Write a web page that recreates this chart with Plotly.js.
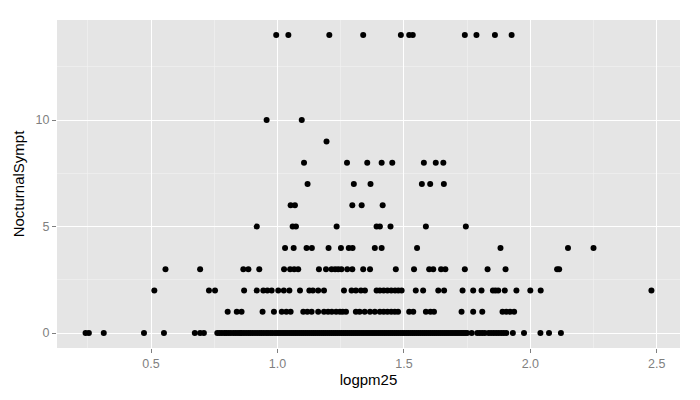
<!DOCTYPE html>
<html>
<head>
<meta charset="utf-8">
<script src="https://cdn.plot.ly/plotly-3.0.1.min.js"></script>
<style>html,body{margin:0;padding:0;background:#fff;}#chart{width:700px;height:400px;}</style>
</head>
<body>
<div id="chart"></div>
<script>
// logpm25 values of the points, grouped by their NocturnalSympt value
const sympt0 = [0.241, 0.254, 0.313, 0.472, 0.551, 0.673, 0.694, 0.709,
  0.762, 0.771, 0.780, 0.790, 0.798, 0.807, 0.816, 0.826, 0.835, 0.844, 0.852, 0.858,
  0.867, 0.876, 0.885, 0.893, 0.902, 0.911, 0.920, 0.929, 0.937, 0.946, 0.955, 0.963,
  0.972, 0.980, 0.990, 0.998, 1.006, 1.014, 1.022, 1.030, 1.038, 1.046, 1.054, 1.062,
  1.070, 1.078, 1.086, 1.094, 1.102, 1.110, 1.118, 1.126, 1.134, 1.142, 1.150, 1.158,
  1.166, 1.174, 1.182, 1.190, 1.198, 1.206, 1.214, 1.222, 1.230, 1.238, 1.246, 1.254,
  1.262, 1.270, 1.278, 1.286, 1.294, 1.302, 1.310, 1.318, 1.326, 1.334, 1.342, 1.350,
  1.358, 1.366, 1.374, 1.382, 1.390, 1.398, 1.406, 1.414, 1.422, 1.430, 1.438, 1.446,
  1.454, 1.462, 1.470, 1.478, 1.486, 1.494, 1.502, 1.510, 1.518, 1.526, 1.534, 1.542,
  1.550, 1.558, 1.566, 1.574, 1.582, 1.590, 1.598, 1.606, 1.614, 1.622, 1.630, 1.638,
  1.646, 1.654, 1.662, 1.670, 1.678, 1.686, 1.694, 1.702, 1.710, 1.718, 1.726, 1.734,
  1.742, 1.750, 1.768, 1.790, 1.800, 1.810, 1.820, 1.835, 1.845, 1.855, 1.865, 1.875,
  1.885, 1.895, 1.905, 1.931, 1.975, 2.040, 2.074, 2.121];
const sympt1 = [0.803, 0.839, 0.858, 0.941, 0.986, 1.017, 1.035, 1.052, 1.102, 1.118,
  1.135, 1.161, 1.184, 1.200, 1.215, 1.232, 1.247, 1.258, 1.271, 1.310, 1.325, 1.345,
  1.366, 1.385, 1.405, 1.420, 1.435, 1.450, 1.464, 1.477, 1.521, 1.537, 1.587, 1.605,
  1.619, 1.728, 1.774, 1.810, 1.890, 1.905, 1.920, 1.936];
const sympt2 = [0.513, 0.729, 0.753, 0.868, 0.918, 0.944, 0.960, 0.977, 1.003, 1.025,
  1.047, 1.089, 1.126, 1.140, 1.161, 1.184, 1.263, 1.293, 1.310, 1.330, 1.346, 1.392,
  1.405, 1.420, 1.435, 1.450, 1.465, 1.478, 1.491, 1.547, 1.576, 1.636, 1.659, 1.732,
  1.774, 1.807, 1.852, 1.862, 1.873, 1.899, 1.945, 2.000, 2.041, 2.479];
const sympt3 = [0.557, 0.694, 0.865, 0.885, 0.928, 1.026, 1.050, 1.066, 1.082, 1.164,
  1.192, 1.214, 1.228, 1.240, 1.253, 1.276, 1.296, 1.339, 1.366, 1.468, 1.540, 1.600,
  1.616, 1.647, 1.664, 1.741, 1.831, 1.902, 2.106, 2.114];
const sympt4 = [1.030, 1.064, 1.115, 1.136, 1.202, 1.251, 1.282, 1.297, 1.385, 1.412,
  1.552, 1.882, 2.149, 2.250];
const sympt5 = [0.918, 1.060, 1.073, 1.234, 1.392, 1.405, 1.447, 1.587, 1.745];
const sympt6 = [1.052, 1.069, 1.296, 1.333, 1.416];
const sympt7 = [1.119, 1.302, 1.368, 1.571, 1.604, 1.658];
const sympt8 = [1.105, 1.275, 1.355, 1.412, 1.454, 1.579, 1.626, 1.656];
const sympt9 = [1.194];
const sympt10 = [0.957, 1.096];
const sympt14 = [0.995, 1.043, 1.205, 1.339, 1.488, 1.521, 1.535, 1.741, 1.787, 1.860, 1.926];

const symptLevels = [0, 1, 2, 3, 4, 5, 6, 7, 8, 9, 10, 14];
const groups = [sympt0, sympt1, sympt2, sympt3, sympt4, sympt5, sympt6, sympt7,
  sympt8, sympt9, sympt10, sympt14];

const xTickVals = [0.5, 1.0, 1.5, 2.0, 2.5];
const xTickText = ['0.5', '1.0', '1.5', '2.0', '2.5'];
const yTickVals = [0, 5, 10];
const yTickText = ['0', '5', '10'];

const xs = [], ys = [];
groups.forEach((g, i) => g.forEach(v => { xs.push(v); ys.push(symptLevels[i]); }));

const font = 'Liberation Sans, Arial, Helvetica, sans-serif';
const trace = {
  type: 'scatter', mode: 'markers', x: xs, y: ys,
  marker: {color: '#000000', size: 6, line: {width: 0}},
  hoverinfo: 'x+y'
};
const axisCommon = {
  showline: false, zeroline: false, showgrid: true,
  gridcolor: '#FFFFFF', gridwidth: 1.1,
  ticks: 'outside', ticklen: 4, tickwidth: 1, tickcolor: '#7F7F7F',
  tickfont: {family: font, size: 12.5, color: '#7F7F7F'},
  tickmode: 'array'
};
const layout = {
  width: 700, height: 400,
  margin: {l: 57, r: 20, t: 20, b: 52},
  paper_bgcolor: '#FFFFFF', plot_bgcolor: '#E5E5E5',
  showlegend: false,
  xaxis: Object.assign({}, axisCommon, {
    range: [0.128, 2.592], tickvals: xTickVals, ticktext: xTickText,
    minor: {tickmode: 'array', tickvals: [0.25, 0.75, 1.25, 1.75, 2.25], showgrid: true, gridcolor: '#F2F2F2', gridwidth: 0.6, ticks: ''},
    title: {text: 'logpm25', font: {family: font, size: 15, color: '#000000'}, standoff: 3}
  }),
  yaxis: Object.assign({}, axisCommon, {
    range: [-0.7, 14.7], tickvals: yTickVals, ticktext: yTickText,
    minor: {tickmode: 'array', tickvals: [2.5, 7.5, 12.5], showgrid: true, gridcolor: '#F2F2F2', gridwidth: 0.6, ticks: ''},
    title: {text: 'NocturnalSympt', font: {family: font, size: 15, color: '#000000'}, standoff: 7}
  })
};
Plotly.newPlot('chart', [trace], layout, {displayModeBar: false, staticPlot: true});
</script>
</body>
</html>
